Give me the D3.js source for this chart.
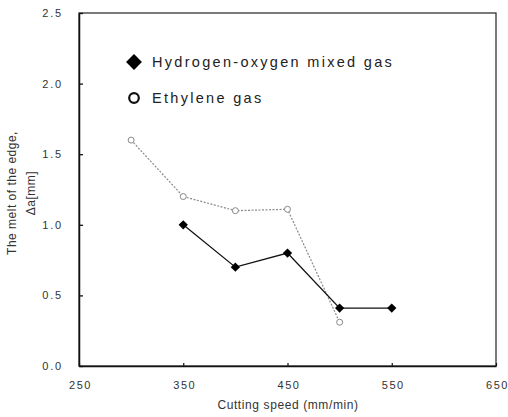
<!DOCTYPE html>
<html>
<head>
<meta charset="utf-8">
<script src="https://cdn.jsdelivr.net/npm/d3@7"></script>
<style>
  body { margin: 0; background: #fff; }
  svg { display: block; font-family: Arial, "Liberation Sans", sans-serif; }
</style>
</head>
<body>
<svg id="chart" width="508" height="417"></svg>
<script>
// data
const hydrogenSpeed = [350, 400, 450, 500, 550];
const hydrogenMelt = [1.0, 0.7, 0.8, 0.41, 0.41];
const ethyleneSpeed = [300, 350, 400, 450, 500];
const ethyleneMelt = [1.6, 1.2, 1.1, 1.11, 0.31];
const xTicks = [250, 350, 450, 550, 650];
const yTicks = [0.0, 0.5, 1.0, 1.5, 2.0, 2.5];
const legendLabels = ['Hydrogen-oxygen mixed gas', 'Ethylene gas'];

const svg = d3.select('#chart');

/**
 * SIZE DEFINITIONS
 */
const plotLeft = 79, plotRight = 496, plotTop = 13, plotBottom = 366;
const font = 'Arial, "Liberation Sans", sans-serif';

/**
 * SCALES
 */
const x = d3.scaleLinear().domain([250, 650]).range([plotLeft, plotRight]);
const y = d3.scaleLinear().domain([0, 2.5]).range([plotBottom, plotTop]);

/**
 * FRAME + AXES
 */
svg.append('rect')
  .attr('x', plotLeft).attr('y', plotTop)
  .attr('width', plotRight - plotLeft).attr('height', plotBottom - plotTop)
  .attr('fill', 'none').attr('stroke', '#222').attr('stroke-width', 1.2);

const yAxis = svg.append('g')
  .attr('transform', `translate(${plotLeft},0)`)
  .call(d3.axisLeft(y).tickValues(yTicks).tickFormat(d3.format('.1f')).tickSizeInner(-4).tickSizeOuter(0));
yAxis.select('.domain').attr('stroke', '#111').attr('stroke-width', 1.5);
yAxis.selectAll('.tick line').attr('stroke', '#111').attr('stroke-width', 1.3);
yAxis.selectAll('.tick text')
  .attr('x', -16).attr('font-size', 11).attr('fill', '#333')
  .attr('letter-spacing', 1.8)
  .attr('font-family', font);

const xAxis = svg.append('g')
  .attr('transform', `translate(0,${plotBottom})`)
  .call(d3.axisBottom(x).tickValues(xTicks).tickSizeInner(-3).tickSizeOuter(0));
xAxis.select('.domain').attr('stroke', '#111').attr('stroke-width', 1.5);
xAxis.selectAll('.tick line').attr('stroke', '#111').attr('stroke-width', 1.2);
xAxis.selectAll('.tick text')
  .attr('y', 15).attr('dx', 1).attr('font-size', 11).attr('fill', '#333')
  .attr('letter-spacing', 1.5)
  .attr('font-family', font);

/**
 * AXIS TITLES
 */
svg.append('text')
  .attr('x', 288).attr('y', 409)
  .attr('text-anchor', 'middle').attr('font-size', 12).attr('fill', '#333')
  .attr('letter-spacing', 0.6)
  .text('Cutting speed (mm/min)');

const yTitle = svg.append('g').attr('transform', 'translate(0,193) rotate(-90)');
yTitle.append('text')
  .attr('x', 0).attr('y', 16)
  .attr('text-anchor', 'middle').attr('font-size', 12).attr('fill', '#333')
  .attr('letter-spacing', 0.5)
  .text('The melt of the edge,');
yTitle.append('text')
  .attr('x', 0).attr('y', 35)
  .attr('text-anchor', 'middle').attr('font-size', 12).attr('fill', '#333')
  .attr('letter-spacing', 0.5)
  .text('Δa[mm]');

/**
 * SERIES
 */
const ethylene = ethyleneSpeed.map((s, i) => ({ x: s, y: ethyleneMelt[i] }));
const hydrogen = hydrogenSpeed.map((s, i) => ({ x: s, y: hydrogenMelt[i] }));

const line = d3.line().x((d) => x(d.x)).y((d) => y(d.y));

svg.append('path')
  .attr('d', line(ethylene))
  .attr('fill', 'none').attr('stroke', '#8a8a8a')
  .attr('stroke-width', 1.2).attr('stroke-dasharray', '2,1.5');

svg.selectAll('circle.eth')
  .data(ethylene)
  .join('circle')
  .attr('class', 'eth')
  .attr('cx', (d) => x(d.x)).attr('cy', (d) => y(d.y))
  .attr('r', 3)
  .attr('fill', '#fff').attr('stroke', '#888').attr('stroke-width', 1);

svg.append('path')
  .attr('d', line(hydrogen))
  .attr('fill', 'none').attr('stroke', '#111').attr('stroke-width', 1.3);

const diamond = d3.symbol().type(d3.symbolDiamond2);
svg.selectAll('path.hyd')
  .data(hydrogen)
  .join('path')
  .attr('class', 'hyd')
  .attr('transform', (d) => `translate(${x(d.x)},${y(d.y)})`)
  .attr('d', diamond.size(55)())
  .attr('fill', '#000');

/**
 * LEGEND
 */
const legend = svg.append('g');
legend.append('path')
  .attr('transform', 'translate(134,62)')
  .attr('d', d3.symbol().type(d3.symbolDiamond2).size(160)())
  .attr('fill', '#000');
legend.append('circle')
  .attr('cx', 134).attr('cy', 98).attr('r', 4.8)
  .attr('fill', '#fff').attr('stroke', '#111').attr('stroke-width', 2.2);
legend.selectAll('text')
  .data(legendLabels)
  .join('text')
  .attr('x', 152).attr('y', (d, i) => 67 + i * 36)
  .attr('font-size', 14.5).attr('fill', '#222')
  .attr('letter-spacing', 2.3)
  .text((d) => d);
</script>
</body>
</html>
